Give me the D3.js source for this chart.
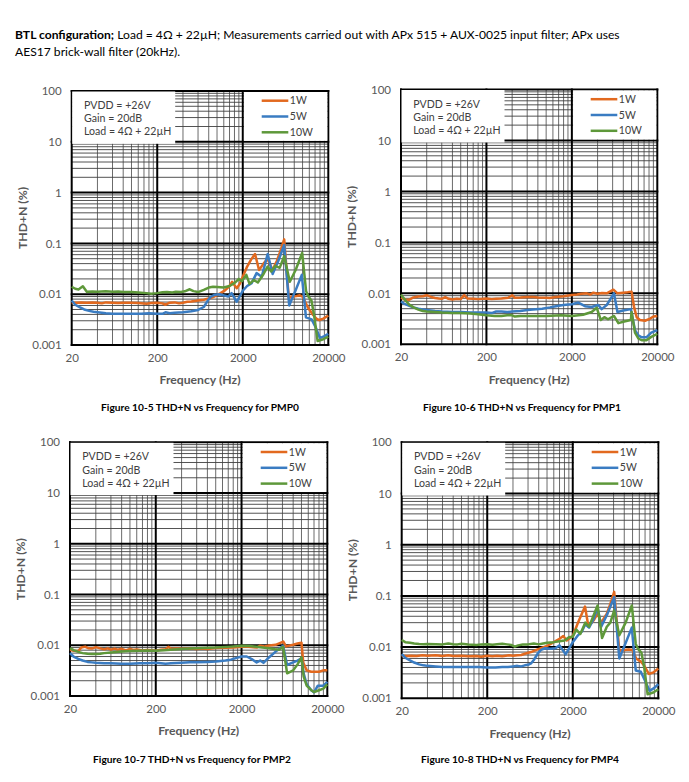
<!DOCTYPE html>
<html><head><meta charset="utf-8">
<script src="https://cdn.jsdelivr.net/npm/d3@7"></script>
<style>
html,body{margin:0;padding:0;background:#fff;}
svg{display:block;}
text{font-family:Lato,"Open Sans",sans-serif;}
</style></head>
<body>
<script>
// ---------------- DATA ----------------
const xTicks = [20, 200, 2000, 20000];
const yTicks = [100, 10, 1, 0.1, 0.01, 0.001];
const seriesNames = ["1W", "5W", "10W"];
const seriesColors = ["#E2691F", "#3A7CC2", "#5E983A"];
const infoLines = ["PVDD = +26V", "Gain = 20dB", "Load = 4\u03A9 + 22\u00B5H"];
const captions = ["Figure 10-5 THD+N vs Frequency for PMP0", "Figure 10-6 THD+N vs Frequency for PMP1",
                  "Figure 10-7 THD+N vs Frequency for PMP2", "Figure 10-8 THD+N vs Frequency for PMP4"];

// PMP0 [frequency Hz, THD+N %]
const pmp0_1W = [[20,0.0068],[23,0.0068],[26,0.0069],[30,0.0068],[35,0.0069],[40,0.0068],[45,0.0066],[50,0.0069],[60,0.0068],[70,0.0067],[80,0.0068],[100,0.0068],[120,0.0067],[150,0.0065],[170,0.0067],[200,0.0068],[230,0.0066],[250,0.0062],[280,0.0068],[320,0.0069],[360,0.0066],[400,0.0068],[450,0.0071],[500,0.0072],[600,0.0075],[700,0.0078],[800,0.0082],[900,0.0088],[1000,0.0096],[1100,0.0105],[1250,0.012],[1400,0.0145],[1500,0.0175],[1700,0.0131],[1850,0.016],[2000,0.022],[2250,0.035],[2500,0.048],[2780,0.062],[3100,0.03],[3500,0.04],[3900,0.05],[4450,0.03],[5000,0.045],[5500,0.07],[6100,0.12],[6900,0.0085],[7500,0.009],[8500,0.0092],[9300,0.0095],[10000,0.009],[11000,0.0065],[11700,0.0053],[13300,0.0039],[14500,0.0033],[15700,0.0031],[17500,0.0033],[20000,0.0038]];
const pmp0_5W = [[20,0.0075],[22,0.0062],[25,0.0055],[28,0.005],[32,0.0047],[36,0.0045],[40,0.0044],[45,0.0043],[50,0.0042],[60,0.0041],[80,0.0041],[100,0.0041],[130,0.0041],[160,0.0042],[200,0.0041],[230,0.0041],[250,0.0044],[280,0.0042],[320,0.0043],[400,0.0044],[500,0.0046],[600,0.0049],[700,0.0056],[780,0.0075],[850,0.009],[950,0.0098],[1080,0.01],[1200,0.0095],[1350,0.009],[1480,0.0105],[1700,0.0071],[2000,0.0117],[2250,0.0145],[2540,0.0165],[2900,0.026],[3330,0.022],[3910,0.062],[4470,0.025],[5200,0.045],[6100,0.093],[6980,0.006],[8300,0.012],[9800,0.024],[10960,0.0035],[12770,0.0032],[14300,0.0022],[15960,0.00137],[18000,0.0015],[20000,0.00165]];
const pmp0_10W = [[20,0.014],[22,0.0128],[24,0.0124],[27,0.0143],[30,0.0112],[35,0.0113],[40,0.0112],[50,0.0114],[60,0.0112],[70,0.0113],[80,0.011],[100,0.0111],[120,0.0108],[150,0.0105],[170,0.0102],[200,0.0105],[230,0.0109],[260,0.011],[300,0.0108],[330,0.0112],[380,0.011],[420,0.0114],[480,0.0125],[530,0.0115],[600,0.011],[700,0.0122],[800,0.0135],[900,0.014],[1000,0.0138],[1200,0.0135],[1400,0.0145],[1600,0.0165],[1800,0.02],[1950,0.018],[2200,0.024],[2400,0.016],[2700,0.019],[3000,0.017],[3500,0.025],[3900,0.035],[4300,0.028],[4800,0.036],[5400,0.033],[6100,0.056],[7100,0.0176],[8300,0.03],[9900,0.065],[11000,0.0115],[11700,0.009],[12700,0.0075],[13600,0.004],[15000,0.0012],[17500,0.0013],[20000,0.00146]];

// PMP1
const pmp1_1W = [[20,0.0082],[22,0.0076],[25,0.0075],[28,0.0083],[32,0.0087],[36,0.0088],[40,0.0092],[45,0.0085],[50,0.0081],[55,0.0079],[60,0.0078],[66,0.0084],[72,0.0078],[80,0.0076],[90,0.0078],[100,0.0077],[110,0.0092],[120,0.0079],[140,0.0078],[160,0.0077],[200,0.0079],[230,0.0077],[260,0.0078],[300,0.0079],[360,0.0082],[400,0.0092],[430,0.0082],[500,0.0083],[600,0.0085],[700,0.0085],[800,0.0083],[1000,0.0082],[1100,0.0081],[1300,0.0085],[1600,0.0088],[2000,0.0093],[2300,0.0095],[2600,0.0098],[2985,0.01],[3300,0.0095],[3570,0.0103],[4000,0.0098],[4500,0.0102],[5120,0.01],[6130,0.0118],[6830,0.01],[8000,0.0103],[9000,0.0105],[10000,0.0108],[10670,0.0055],[11480,0.0034],[12500,0.003],[14360,0.0029],[16500,0.0032],[18000,0.0035],[20000,0.0036]];
const pmp1_5W = [[20,0.0069],[22,0.0062],[25,0.0057],[28,0.0053],[32,0.005],[36,0.0048],[40,0.0047],[50,0.0045],[60,0.0044],[80,0.0043],[100,0.0043],[130,0.0042],[160,0.0042],[200,0.0042],[230,0.0041],[260,0.0044],[300,0.0044],[350,0.0043],[400,0.0044],[500,0.0045],[600,0.0047],[700,0.0048],[900,0.005],[1110,0.0053],[1300,0.0056],[1592,0.0059],[2000,0.0061],[2380,0.0066],[2850,0.0056],[3400,0.0054],[4080,0.0059],[4470,0.0049],[5120,0.0059],[6220,0.01],[6830,0.0043],[8000,0.0046],[9800,0.0049],[10960,0.0019],[12000,0.0015],[13130,0.00137],[14900,0.00137],[17000,0.0017],[20000,0.0019]];
const pmp1_10W = [[20,0.0095],[21,0.0085],[23,0.007],[25,0.006],[28,0.0053],[32,0.0048],[36,0.0045],[40,0.0044],[50,0.0043],[60,0.0042],[80,0.0041],[100,0.0041],[130,0.004],[160,0.0039],[200,0.0037],[250,0.0036],[300,0.0036],[350,0.0037],[400,0.0037],[430,0.0035],[500,0.0036],[700,0.0036],[1000,0.0036],[1500,0.0037],[2000,0.0036],[2700,0.0038],[3410,0.0043],[3910,0.0052],[4360,0.003],[4800,0.0034],[5300,0.0031],[6220,0.0036],[7000,0.0026],[8200,0.0028],[9800,0.003],[10000,0.0043],[10960,0.0017],[12000,0.0013],[13130,0.0012],[14900,0.0012],[17000,0.0014],[20000,0.0016]];

// PMP2
const pmp2_1W = [[20,0.0081],[22,0.0078],[25,0.0077],[27,0.009],[30,0.0094],[33,0.0087],[36,0.0086],[40,0.0092],[45,0.0087],[50,0.0083],[55,0.0087],[60,0.0082],[66,0.0086],[72,0.0082],[80,0.0085],[90,0.0079],[100,0.0085],[110,0.0081],[120,0.0083],[140,0.0079],[160,0.0081],[180,0.008],[200,0.0078],[230,0.0082],[260,0.0083],[280,0.0093],[300,0.0085],[350,0.0086],[400,0.0085],[500,0.0086],[600,0.0084],[700,0.0086],[800,0.0084],[1000,0.0088],[1300,0.0089],[1600,0.009],[2000,0.0093],[2300,0.0095],[2600,0.0092],[3000,0.009],[3300,0.0098],[3700,0.0095],[4200,0.0099],[5000,0.0102],[6140,0.0118],[6600,0.0095],[8000,0.0102],[9000,0.0108],[10000,0.0112],[10500,0.0045],[11500,0.0032],[13000,0.003],[16000,0.003],[18000,0.0032],[20000,0.0032]];
const pmp2_5W = [[20,0.007],[22,0.006],[25,0.0054],[28,0.005],[32,0.0047],[36,0.0046],[40,0.0045],[50,0.0044],[60,0.0044],[80,0.0043],[100,0.0043],[130,0.0044],[160,0.0044],[200,0.0045],[230,0.0044],[260,0.0043],[300,0.0044],[400,0.0045],[500,0.0046],[600,0.0046],[800,0.0047],[1000,0.0048],[1300,0.005],[1500,0.0052],[1800,0.0057],[2000,0.006],[2300,0.006],[2700,0.0052],[3000,0.0046],[3300,0.005],[3600,0.0045],[4100,0.0056],[5000,0.0075],[6100,0.0098],[6800,0.0041],[8000,0.0046],[9000,0.005],[10000,0.0055],[10600,0.0028],[11500,0.0017],[13000,0.0013],[14000,0.00118],[15500,0.0016],[18000,0.0016],[20000,0.0019]];
const pmp2_10W = [[20,0.0088],[22,0.008],[25,0.0074],[28,0.007],[32,0.0068],[36,0.0067],[40,0.0067],[45,0.0068],[50,0.007],[60,0.0072],[70,0.0074],[80,0.0075],[100,0.0077],[130,0.0078],[160,0.0079],[200,0.0078],[250,0.008],[300,0.0082],[400,0.0084],[500,0.0086],[700,0.0088],[1000,0.009],[1500,0.0094],[2000,0.0098],[2500,0.0097],[3000,0.0093],[3500,0.009],[4200,0.0087],[5000,0.0083],[5500,0.0082],[6100,0.0093],[6800,0.0028],[8000,0.0032],[9000,0.0042],[10000,0.0058],[10600,0.0024],[11500,0.0016],[13000,0.0013],[14000,0.0012],[16000,0.0013],[18000,0.0014],[20000,0.0017]];

// PMP4
const pmp4_1W = [[20,0.0068],[23,0.0067],[26,0.0068],[30,0.0067],[35,0.0069],[40,0.0068],[50,0.0069],[60,0.0067],[70,0.0069],[80,0.0067],[100,0.0068],[120,0.0066],[150,0.0067],[170,0.0065],[200,0.0068],[230,0.0066],[260,0.0068],[300,0.0066],[360,0.0069],[400,0.0068],[450,0.0069],[500,0.007],[550,0.0074],[650,0.008],[750,0.0088],[850,0.0095],[1000,0.0105],[1200,0.0125],[1400,0.0145],[1550,0.0165],[1700,0.0135],[2000,0.0165],[2300,0.03],[2780,0.062],[3050,0.025],[3500,0.033],[3900,0.045],[4300,0.03],[5000,0.045],[5500,0.07],[6100,0.12],[7000,0.0085],[8000,0.0088],[9000,0.009],[10000,0.0088],[11000,0.006],[12500,0.0052],[13500,0.0045],[15500,0.003],[17500,0.0032],[20000,0.0038]];
const pmp4_5W = [[20,0.0073],[22,0.0062],[25,0.0055],[28,0.005],[32,0.0046],[36,0.0044],[40,0.0043],[50,0.0042],[60,0.0041],[80,0.0041],[100,0.0041],[130,0.0041],[160,0.0041],[200,0.004],[250,0.004],[300,0.0041],[350,0.0041],[400,0.0042],[450,0.0043],[500,0.0042],[550,0.0044],[600,0.0045],[650,0.0048],[700,0.0056],[780,0.0075],[850,0.0088],[950,0.0095],[1100,0.0093],[1250,0.0095],[1400,0.0108],[1650,0.0072],[2000,0.0125],[2300,0.017],[2550,0.02],[2800,0.028],[3100,0.024],[3500,0.035],[3900,0.06],[4300,0.025],[5100,0.045],[6100,0.095],[7000,0.006],[8300,0.012],[9800,0.024],[10900,0.0035],[12500,0.0033],[14000,0.0022],[15800,0.0014],[18000,0.0016],[20000,0.0019]];
const pmp4_10W = [[20,0.0138],[22,0.0125],[25,0.0122],[28,0.0118],[32,0.0115],[36,0.0114],[40,0.0115],[50,0.0114],[60,0.0113],[70,0.0117],[80,0.0114],[90,0.0113],[100,0.0116],[120,0.0112],[150,0.011],[170,0.0113],[200,0.0114],[230,0.0111],[260,0.0114],[300,0.0116],[340,0.0113],[380,0.011],[420,0.0102],[460,0.0108],[520,0.0112],[600,0.0113],[700,0.0118],[800,0.0113],[900,0.0118],[1000,0.0122],[1200,0.0125],[1400,0.013],[1600,0.0135],[1800,0.0155],[2000,0.016],[2200,0.022],[2450,0.018],[2800,0.03],[3100,0.025],[3900,0.065],[4400,0.015],[5000,0.025],[5500,0.03],[6100,0.052],[7000,0.017],[8300,0.03],[9800,0.065],[10900,0.0115],[11700,0.009],[12700,0.0078],[13700,0.004],[15000,0.0012],[17500,0.0013],[20000,0.0015]];

// ---------------- LAYOUT ----------------
const W = 689, H = 782;
const panels = [
  {x0: 71.7, x1: 328.3, y0: 91.0, y1: 345.0, series: [pmp0_1W, pmp0_5W, pmp0_10W], cap: captions[0], capX: 200, capY: 411},
  {x0: 401.0, x1: 657.3, y0: 89.5, y1: 344.3, series: [pmp1_1W, pmp1_5W, pmp1_10W], cap: captions[1], capX: 522, capY: 411},
  {x0: 70.0, x1: 327.3, y0: 442.3, y1: 696.0, series: [pmp2_1W, pmp2_5W, pmp2_10W], cap: captions[2], capX: 192, capY: 763},
  {x0: 401.7, x1: 658.3, y0: 442.3, y1: 698.3, series: [pmp4_1W, pmp4_5W, pmp4_10W], cap: captions[3], capX: 520, capY: 763}
];

const svg = d3.select("body").append("svg").attr("width", W).attr("height", H);

// Header
const hdr = svg.append("text").attr("x", 15).attr("y", 39).attr("font-size", 12.1).attr("fill", "#000");
hdr.append("tspan").attr("font-weight", "bold").text("BTL configuration;");
hdr.append("tspan").text(" Load = 4\u03A9 + 22\u00B5H; Measurements carried out with APx 515 + AUX-0025 input filter; APx uses");
svg.append("text").attr("x", 15).attr("y", 56).attr("font-size", 12.1).attr("fill", "#000")
  .text("AES17 brick-wall filter (20kHz).");

const decades = [0.001, 0.01, 0.1, 1, 10];
const xDecades = [20, 200, 2000];

panels.forEach(p => {
  const x = d3.scaleLog().domain([20, 20000]).range([p.x0, p.x1]);
  const y = d3.scaleLog().domain([0.001, 100]).range([p.y1, p.y0]);
  const g = svg.append("g");

  // minor gridlines
  const xMinor = [];
  xDecades.forEach(d => { for (let k = 2; k <= 9; k++) xMinor.push(d * k); });
  const yMinor = [];
  decades.forEach(d => { for (let k = 2; k <= 9; k++) yMinor.push(d * k); });
  g.selectAll(".vmin").data(xMinor).join("line")
    .attr("x1", d => x(d)).attr("x2", d => x(d)).attr("y1", p.y0).attr("y2", p.y1)
    .attr("stroke", "#5a5a5a").attr("stroke-width", 0.9);
  g.selectAll(".hmin").data(yMinor).join("line")
    .attr("y1", d => y(d)).attr("y2", d => y(d)).attr("x1", p.x0).attr("x2", p.x1)
    .attr("stroke", "#404040").attr("stroke-width", 0.9);
  // major gridlines
  g.selectAll(".vmaj").data(xTicks).join("line")
    .attr("x1", d => x(d)).attr("x2", d => x(d)).attr("y1", p.y0 - 1).attr("y2", p.y1 + 1)
    .attr("stroke", "#000").attr("stroke-width", 2);
  g.selectAll(".hmaj").data(yTicks).join("line")
    .attr("y1", d => y(d)).attr("y2", d => y(d)).attr("x1", p.x0 - 1).attr("x2", p.x1 + 1)
    .attr("stroke", "#000").attr("stroke-width", 2);

  // info text box (white, over gridlines)
  const tbW = 103, tbH = y(10) - p.y0 + 1.5;
  g.append("rect").attr("x", p.x0 + 0.5).attr("y", p.y0 + 0.5).attr("width", tbW).attr("height", tbH)
    .attr("fill", "#fff");
  infoLines.forEach((t, i) => {
    g.append("text").attr("x", p.x0 + 12.3).attr("y", p.y0 + 14.3 + i * 13.2)
      .attr("dy", "0.35em").attr("font-size", 10.6).attr("fill", "#404040").text(t);
  });

  // legend box
  const lx = x(2000) + 1.2;
  g.append("rect").attr("x", lx).attr("y", p.y0 + 1).attr("width", p.x1 - 1 - lx)
    .attr("height", y(10) - p.y0 - 2).attr("fill", "#fff");

  // data lines
  const line = d3.line().x(d => x(d[0])).y(d => y(d[1]));
  p.series.forEach((s, i) => {
    g.append("path").datum(s).attr("d", line).attr("fill", "none")
      .attr("stroke", seriesColors[i]).attr("stroke-width", 2.5).attr("stroke-linejoin", "round");
  });

  // legend entries
  seriesNames.forEach((n, i) => {
    const ly = p.y0 + 9.7 + i * 15.8;
    g.append("line").attr("x1", p.x1 - 66.6).attr("x2", p.x1 - 40).attr("y1", ly).attr("y2", ly)
      .attr("stroke", seriesColors[i]).attr("stroke-width", 2.5);
    g.append("text").attr("x", p.x1 - 38.5).attr("y", ly).attr("dy", "0.35em")
      .attr("font-size", 10.5).attr("fill", "#404040").text(n);
  });

  // axes (labels only)
  const yAx = d3.axisLeft(y).tickValues(yTicks).tickSize(0).tickPadding(10)
    .tickFormat(d => d >= 1 ? String(d) : d3.format("")(d));
  const ya = g.append("g").attr("transform", `translate(${p.x0},0)`).call(yAx);
  ya.select(".domain").remove();
  ya.selectAll("text").attr("font-size", 11.5).attr("fill", "#595959").attr("font-family", "Lato,'Open Sans',sans-serif");

  const xAx = d3.axisBottom(x).tickValues(xTicks).tickSize(0).tickPadding(9).tickFormat(d => String(d));
  const xa = g.append("g").attr("transform", `translate(0,${p.y1})`).call(xAx);
  xa.select(".domain").remove();
  xa.selectAll("text").attr("font-size", 11.5).attr("fill", "#595959").attr("font-family", "Lato,'Open Sans',sans-serif");

  // axis titles
  const cx = (p.x0 + p.x1) / 2, cy = (p.y0 + p.y1) / 2;
  g.append("text").attr("x", cx).attr("y", p.y1 + 35).attr("dy", "0.35em").attr("text-anchor", "middle")
    .attr("font-size", 12.2).attr("font-weight", "bold").attr("fill", "#595959").text("Frequency (Hz)");
  g.append("text").attr("transform", `translate(${p.x0 - 49},${cy}) rotate(-90)`).attr("dy", "0.35em")
    .attr("text-anchor", "middle").attr("font-size", 12.2).attr("font-weight", "bold").attr("fill", "#595959")
    .text("THD+N (%)");

  // caption
  svg.append("text").attr("x", p.capX).attr("y", p.capY).attr("text-anchor", "middle")
    .attr("font-size", 10.2).attr("font-weight", "bold").attr("fill", "#000").text(p.cap);
});
</script>
</body></html>
